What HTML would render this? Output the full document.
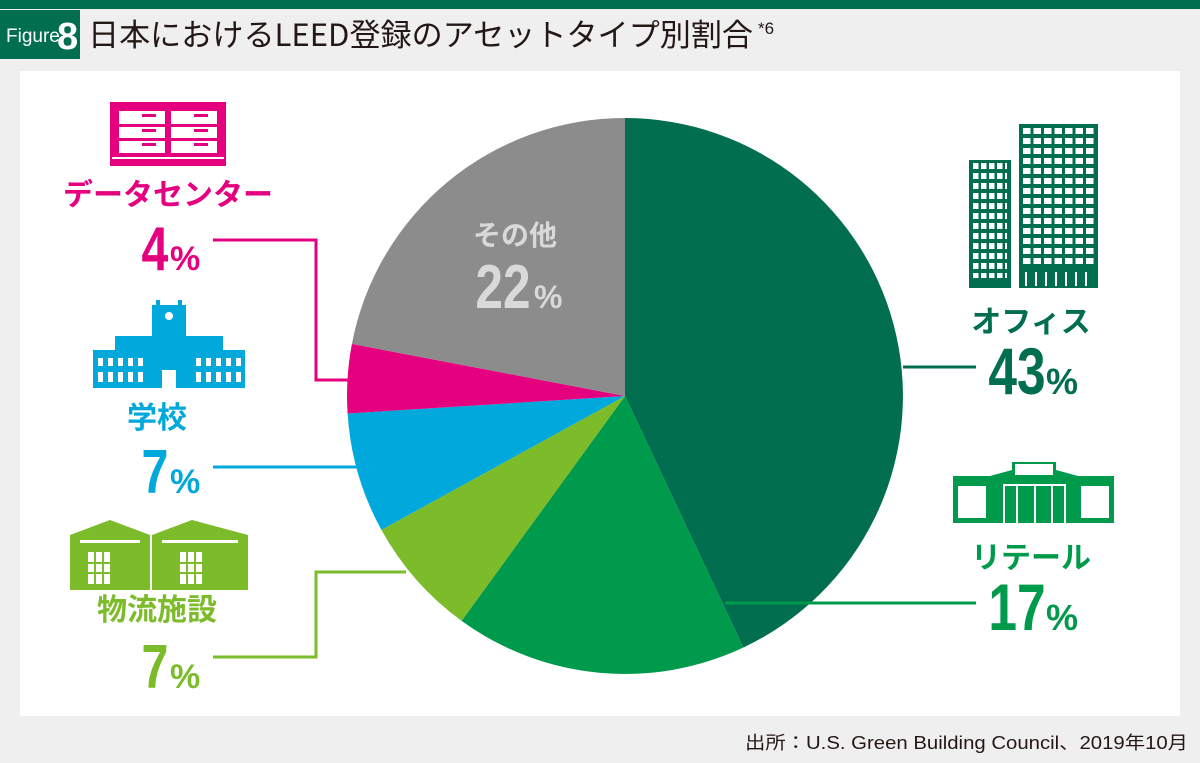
<!DOCTYPE html>
<html><head><meta charset="utf-8"><style>
body{margin:0;width:1200px;height:763px;background:#efefef;overflow:hidden;font-family:"Liberation Sans","Noto Sans CJK JP",sans-serif}
</style></head><body>
<svg width="1200" height="763" xmlns="http://www.w3.org/2000/svg" style="position:absolute;left:0;top:0">
<defs>
<pattern id="w1" x="973" y="163" width="8" height="10" patternUnits="userSpaceOnUse"><rect width="5.5" height="6" fill="#fff"/></pattern>
<pattern id="w2" x="1023" y="128" width="10.5" height="10" patternUnits="userSpaceOnUse"><rect width="7.5" height="6" fill="#fff"/></pattern>
</defs>
<rect x="0" y="0" width="1200" height="9" fill="#006e4f"/>
<rect x="0" y="10" width="80" height="49" fill="#006e4f"/>
<text x="6" y="42" font-size="19" fill="#fff">Figure</text>
<text x="57" y="49" font-size="38" font-weight="bold" fill="#fff">8</text>
<text x="88" y="46" font-size="31" fill="#231815" font-family="Noto Sans CJK JP,sans-serif" textLength="665" lengthAdjust="spacingAndGlyphs">日本におけるLEED登録のアセットタイプ別割合</text>
<text x="758" y="34" font-size="17" fill="#231815">*6</text>
<rect x="20" y="71" width="1160" height="645" fill="#fff"/>
<g transform="translate(625,396)">
<path d="M0,0 L0,-278 A278,278 0 0,1 118.4,251.5 Z" fill="#006e4f"/>
<path d="M0,0 L118.4,251.5 A278,278 0 0,1 -163.4,224.9 Z" fill="#009a4c"/>
<path d="M0,0 L-163.4,224.9 A278,278 0 0,1 -243.6,133.9 Z" fill="#7cbb2a"/>
<path d="M0,0 L-243.6,133.9 A278,278 0 0,1 -277.4,17.5 Z" fill="#00a8dc"/>
<path d="M0,0 L-277.4,17.5 A278,278 0 0,1 -273.1,-52.1 Z" fill="#e4007f"/>
<path d="M0,0 L-273.1,-52.1 A278,278 0 0,1 0,-278 Z" fill="#8c8c8c"/>
</g>
<text x="515" y="245" font-size="28" font-weight="bold" fill="#d9d9d9" text-anchor="middle">その他</text>
<text x="503" y="308" font-size="62" font-weight="bold" fill="#d9d9d9" text-anchor="middle" transform="translate(503,0) scale(0.8,1) translate(-503,0)">22</text>
<text x="534" y="308" font-size="32" font-weight="bold" fill="#d9d9d9">%</text>
<g fill="none" stroke-width="3">
<path d="M903,367 H976" stroke="#006e4f"/>
<path d="M725,603 H976" stroke="#009a4c"/>
<path d="M213,240 H316 V380 H352" stroke="#e4007f"/>
<path d="M213,467 H372" stroke="#00a8dc"/>
<path d="M213,657 H316 V572 H406" stroke="#7cbb2a"/>
</g>
<rect x="969" y="160" width="42" height="128" fill="#006e4f"/>
<rect x="973" y="163" width="34" height="115" fill="url(#w1)"/>
<rect x="1019" y="124" width="79" height="164" fill="#006e4f"/>
<rect x="1023" y="128" width="72" height="140" fill="url(#w2)"/>
<g fill="#fff"><rect x="1025" y="272" width="2" height="14"/><rect x="1035" y="272" width="2" height="14"/><rect x="1045" y="272" width="2" height="14"/><rect x="1055" y="272" width="2" height="14"/><rect x="1065" y="272" width="2" height="14"/><rect x="1075" y="272" width="2" height="14"/><rect x="1085" y="272" width="2" height="14"/></g>
<text x="1031" y="332" font-size="30" font-weight="bold" fill="#006e4f" text-anchor="middle">オフィス</text>
<text x="1017" y="394" font-size="66" font-weight="bold" fill="#006e4f" text-anchor="middle" transform="translate(1017,0) scale(0.78,1) translate(-1017,0)">43</text>
<text x="1046" y="394" font-size="36" font-weight="bold" fill="#006e4f">%</text>
<path d="M953,523 V476 H990 L1012,470 V462 H1056 V470 L1078,476 H1114 V523 Z" fill="#009a4c"/>
<rect x="1015" y="464" width="38" height="11" fill="#fff"/>
<rect x="958" y="486" width="28" height="32" fill="#fff"/>
<rect x="1081" y="486" width="28" height="32" fill="#fff"/>
<rect x="1003" y="484" width="2" height="39" fill="#fff"/><rect x="1003" y="484" width="62" height="2" fill="#fff"/>
<rect x="1016" y="484" width="2" height="39" fill="#fff"/><rect x="1034" y="484" width="2" height="39" fill="#fff"/><rect x="1051" y="484" width="2" height="39" fill="#fff"/><rect x="1064" y="484" width="2" height="39" fill="#fff"/>
<text x="1031" y="568" font-size="30" font-weight="bold" fill="#009a4c" text-anchor="middle">リテール</text>
<text x="1017" y="630" font-size="66" font-weight="bold" fill="#009a4c" text-anchor="middle" transform="translate(1017,0) scale(0.78,1) translate(-1017,0)">17</text>
<text x="1046" y="630" font-size="36" font-weight="bold" fill="#009a4c">%</text>
<rect x="110" y="102" width="116" height="64" fill="#e4007f"/>
<rect x="119" y="111" width="46" height="42" fill="#fff"/><rect x="171" y="111" width="46" height="42" fill="#fff"/>
<g fill="#e4007f"><rect x="119" y="124" width="98" height="3"/><rect x="119" y="138" width="98" height="3"/><rect x="165" y="111" width="6" height="44"/>
<rect x="142" y="114" width="14" height="3"/><rect x="142" y="129" width="14" height="3"/><rect x="142" y="143" width="14" height="3"/>
<rect x="194" y="114" width="14" height="3"/><rect x="194" y="129" width="14" height="3"/><rect x="194" y="143" width="14" height="3"/></g>
<rect x="112" y="157" width="112" height="2" fill="#fff"/>
<text x="168" y="205" font-size="30" font-weight="bold" fill="#e4007f" text-anchor="middle">データセンター</text>
<text x="155" y="270" font-size="62" font-weight="bold" fill="#e4007f" text-anchor="middle" transform="translate(155,0) scale(0.78,1) translate(-155,0)">4</text>
<text x="170" y="270" font-size="34" font-weight="bold" fill="#e4007f">%</text>
<g fill="#00a8dc">
<rect x="93" y="350" width="152" height="38"/><rect x="115" y="336" width="108" height="16"/><rect x="152" y="305" width="34" height="35"/><rect x="156" y="300" width="4" height="8"/><rect x="178" y="300" width="4" height="8"/>
</g>
<g fill="#fff"><rect x="98" y="358" width="5" height="8"/><rect x="108" y="358" width="5" height="8"/><rect x="118" y="358" width="5" height="8"/><rect x="128" y="358" width="5" height="8"/><rect x="138" y="358" width="5" height="8"/><rect x="196" y="358" width="5" height="8"/><rect x="206" y="358" width="5" height="8"/><rect x="216" y="358" width="5" height="8"/><rect x="226" y="358" width="5" height="8"/><rect x="236" y="358" width="5" height="8"/>
<rect x="98" y="372" width="5" height="10"/><rect x="108" y="372" width="5" height="10"/><rect x="118" y="372" width="5" height="10"/><rect x="128" y="372" width="5" height="10"/><rect x="138" y="372" width="5" height="10"/><rect x="196" y="372" width="5" height="10"/><rect x="206" y="372" width="5" height="10"/><rect x="216" y="372" width="5" height="10"/><rect x="226" y="372" width="5" height="10"/><rect x="236" y="372" width="5" height="10"/>
<circle cx="169" cy="316" r="4"/><rect x="162" y="370" width="14" height="18"/></g>
<text x="157" y="428" font-size="30" font-weight="bold" fill="#00a8dc" text-anchor="middle">学校</text>
<text x="155" y="493" font-size="62" font-weight="bold" fill="#00a8dc" text-anchor="middle" transform="translate(155,0) scale(0.78,1) translate(-155,0)">7</text>
<text x="170" y="493" font-size="34" font-weight="bold" fill="#00a8dc">%</text>
<g fill="#7cbb2a"><path d="M70,590 V535 L110,520 L150,535 V590 Z"/><path d="M152,590 V535 L192,520 L248,535 V590 Z"/></g>
<g fill="#fff"><rect x="80" y="540" width="60" height="3"/><rect x="162" y="540" width="76" height="3"/>
<rect x="88" y="552" width="22" height="32"/><rect x="180" y="552" width="22" height="32"/></g>
<g fill="#7cbb2a"><rect x="94" y="552" width="2" height="32"/><rect x="102" y="552" width="2" height="32"/><rect x="88" y="562" width="22" height="2"/><rect x="88" y="572" width="22" height="2"/>
<rect x="186" y="552" width="2" height="32"/><rect x="194" y="552" width="2" height="32"/><rect x="180" y="562" width="22" height="2"/><rect x="180" y="572" width="22" height="2"/></g>
<text x="157" y="620" font-size="30" font-weight="bold" fill="#7cbb2a" text-anchor="middle">物流施設</text>
<text x="155" y="688" font-size="62" font-weight="bold" fill="#7cbb2a" text-anchor="middle" transform="translate(155,0) scale(0.78,1) translate(-155,0)">7</text>
<text x="170" y="688" font-size="34" font-weight="bold" fill="#7cbb2a">%</text>
<text x="745" y="749" font-size="18" fill="#231815" textLength="443" lengthAdjust="spacingAndGlyphs">出所：U.S. Green Building Council、2019年10月</text>
</svg>
</body></html>
